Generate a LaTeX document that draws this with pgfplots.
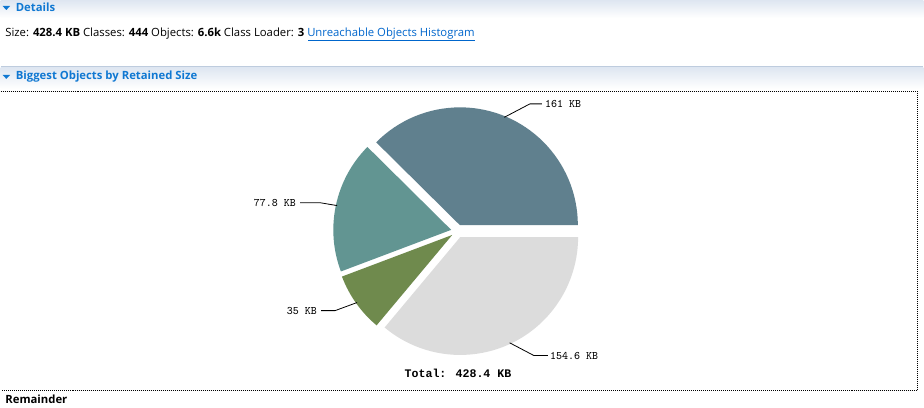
\documentclass[border=0pt]{standalone}
\usepackage{pgfplots}
\usepackage{pgfplotstable}
\pgfplotsset{compat=1.18}
\usepackage{fontspec}
\setmainfont{Open Sans}
\newfontfamily\boldmono{Liberation Mono}
\definecolor{sliceA}{RGB}{96,128,142}
\definecolor{sliceB}{RGB}{98,149,146}
\definecolor{sliceC}{RGB}{111,138,77}
\definecolor{sliceD}{RGB}{220,220,220}
\definecolor{headblue}{RGB}{16,120,210}
\definecolor{linkblue}{RGB}{0,102,204}
\definecolor{hdrtop}{RGB}{222,230,241}
\definecolor{hdrline}{RGB}{190,204,222}
\pgfplotstableread{
value label
161 {161 KB}
77.8 {77.8 KB}
35 {35 KB}
154.6 {154.6 KB}
}\piedata
\begin{document}
\begin{tikzpicture}
\pgfplotstablegetelem{0}{value}\of\piedata \let\vA\pgfplotsretval
\pgfplotstablegetelem{1}{value}\of\piedata \let\vB\pgfplotsretval
\pgfplotstablegetelem{2}{value}\of\piedata \let\vC\pgfplotsretval
\pgfplotstablegetelem{3}{value}\of\piedata \let\vD\pgfplotsretval
\pgfplotstablegetelem{0}{label}\of\piedata \let\lA\pgfplotsretval
\pgfplotstablegetelem{1}{label}\of\piedata \let\lB\pgfplotsretval
\pgfplotstablegetelem{2}{label}\of\piedata \let\lC\pgfplotsretval
\pgfplotstablegetelem{3}{label}\of\piedata \let\lD\pgfplotsretval
\pgfmathsetmacro\total{\vA+\vB+\vC+\vD}
\pgfmathsetmacro\aB{360*(\vA/\total)}
\pgfmathsetmacro\aC{\aB+360*(\vB/\total)}
\pgfmathsetmacro\aD{\aC+360*(\vC/\total)}
\pgfmathsetmacro\mA{\aB/2}
\pgfmathsetmacro\mB{(\aB+\aC)/2}
\pgfmathsetmacro\mC{(\aC+\aD)/2}
\pgfmathsetmacro\mD{(\aD+360)/2}
\newcommand\slice[4]{\fill[#1] (axis cs:457.5,231.5) ++(#4:4.875pt) -- ++(#2:88.5pt) arc[start angle=#2, end angle=#3, radius=88.5pt] -- cycle;}
\begin{axis}[scale only axis, width=693pt, height=306pt,
  xmin=0, xmax=924, ymin=0, ymax=408, y dir=reverse,
  hide axis, clip=false]
% background
\fill[white] (axis cs:0,0) rectangle (axis cs:924,408);
\shade[top color=hdrtop, bottom color=white] (axis cs:0,0) rectangle (axis cs:924,18);
\draw[hdrline, line width=0.9pt] (axis cs:0,66.5) -- (axis cs:924,66.5);
\shade[top color=hdrtop, bottom color=white] (axis cs:0,67.2) rectangle (axis cs:924,89);
% headers
\fill[headblue] (axis cs:2,6) -- (axis cs:9.5,6) -- (axis cs:5.75,10) -- cycle;
\node[anchor=west, inner sep=0pt, text=headblue, font=\fontsize{8.5}{10}\selectfont\bfseries] at (axis cs:15,7.5) {Details};
\node[anchor=west, inner sep=0pt, font=\fontsize{8.5}{10}\selectfont] at (axis cs:4.5,33.5)
  {Size: \textbf{428.4 KB} Classes: \textbf{444} Objects: \textbf{6.6k} Class Loader: \textbf{3} \textcolor{linkblue}{Unreachable Objects Histogram}};
\draw[linkblue, line width=0.75pt] (axis cs:308,40.5) -- (axis cs:475.5,40.5);
\fill[headblue] (axis cs:2,75) -- (axis cs:9.5,75) -- (axis cs:5.75,79) -- cycle;
\node[anchor=west, inner sep=0pt, text=headblue, font=\fontsize{8.5}{10}\selectfont\bfseries] at (axis cs:15,77) {Biggest Objects by Retained Size};
% dotted frame
\draw[black, line width=0.75pt, dash pattern=on 0.75pt off 0.75pt] (axis cs:0,91.5) -- (axis cs:918.5,91.5) -- (axis cs:918.5,390.5) -- (axis cs:0,390.5);
% pie
\slice{sliceA}{0}{\aB}{\mA}
\slice{sliceB}{\aB}{\aC}{\mB}
\slice{sliceC}{\aC}{\aD}{\mC}
\slice{sliceD}{\aD}{360}{\mD}
% leaders
\draw[black, line width=0.6pt] (axis cs:457.5,231.5) ++(\mA:92.5pt) -- (axis cs:530,104) -- (axis cs:542,104);
\draw[black, line width=0.6pt] (axis cs:457.5,231.5) ++(\mB:92.5pt) -- (axis cs:320,203) -- (axis cs:300,203);
\draw[black, line width=0.6pt] (axis cs:457.5,231.5) ++(\mC:92.5pt) -- (axis cs:335,311) -- (axis cs:321,311);
\draw[black, line width=0.6pt] (axis cs:457.5,231.5) ++(\mD:92.5pt) -- (axis cs:534,356) -- (axis cs:548,356);
\node[anchor=west, inner sep=0pt, font=\ttfamily\fontsize{8.6}{10}\selectfont] at (axis cs:545,104) {\lA};
\node[anchor=east, inner sep=0pt, font=\ttfamily\fontsize{8.6}{10}\selectfont] at (axis cs:296,203) {\lB};
\node[anchor=east, inner sep=0pt, font=\ttfamily\fontsize{8.6}{10}\selectfont] at (axis cs:317,311) {\lC};
\node[anchor=west, inner sep=0pt, font=\ttfamily\fontsize{8.6}{10}\selectfont] at (axis cs:550,356) {\lD};
\node[inner sep=0pt, font=\boldmono\bfseries\fontsize{8.7}{11}\selectfont] at (axis cs:458,373.5) {Total: \pgfmathprintnumber[fixed,precision=1,assume math mode=true]{\total} KB};
\node[anchor=west, inner sep=0pt, font=\fontsize{8.5}{10}\selectfont\bfseries] at (axis cs:4.5,400) {Remainder};
\end{axis}
\end{tikzpicture}
\end{document}
